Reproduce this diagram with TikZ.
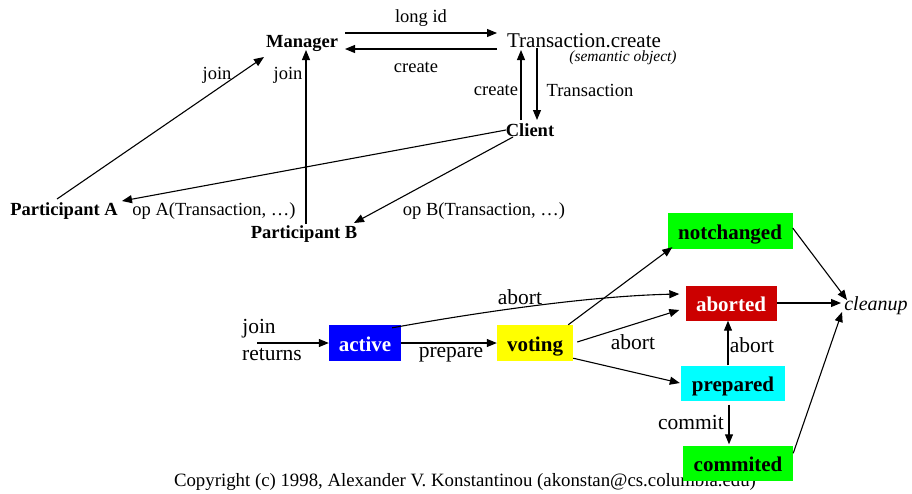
\documentclass[tikz,border=0pt]{standalone}
\usepackage{fontspec}
\setmainfont{Liberation Serif}
\usetikzlibrary{arrows.meta,calc}
\definecolor{stblue}{RGB}{0,0,255}
\definecolor{styellow}{RGB}{255,255,0}
\definecolor{stgreen}{RGB}{0,255,0}
\definecolor{stcyan}{RGB}{0,255,255}
\definecolor{stred}{RGB}{204,0,0}
\begin{document}
\begin{tikzpicture}[x=1pt,y=-1pt,
  lbl/.style={font=\fontsize{18.5}{20}\selectfont, inner sep=0pt},
  slbl/.style={font=\fontsize{21.5}{24}\selectfont, inner sep=0pt},
  ent/.style={font=\fontsize{18.5}{20}\selectfont\bfseries, inner sep=0pt},
  state/.style={font=\fontsize{21}{24}\selectfont\bfseries, minimum height=36pt,
    inner sep=0pt, text height=17pt, text depth=0pt},
  arr/.style={-{Triangle[length=10pt,width=8pt]}, line width=1.1pt}]
\useasboundingbox (0,0) rectangle (912,493);

% upper part: objects of the transaction service
\node[ent] (mgr) at (302,43) {Manager};
\node[lbl, font=\fontsize{21}{24}\selectfont] (tc) at (584,41) {Transaction.create};
\node[lbl, font=\fontsize{15.5}{17}\selectfont\itshape] (sem) at (623,58) {(semantic object)};
\node[ent] (client) at (530,130) {Client};
\node[ent] (pa) at (64,211) {Participant A};
\node[ent] (pb) at (304,234) {Participant B};

\draw[arr] ($(mgr)+(43,-10)$) -- ($(tc)+(-87,-8)$);
\draw[arr] ($(tc)+(-87,8)$) -- ($(mgr)+(43,6)$);
\draw[arr] ($(client)+(-9,-10)$) -- ($(tc)+(-63,9)$);
\draw[arr] ($(tc)+(-47,7)$) -- ($(client)+(7,-10)$);
\draw[arr] ($(client)+(-24,0)$) -- ($(pa)+(58,-10)$);
\draw[arr] ($(client)+(-17,7)$) -- ($(pb)+(50,-11)$);
\draw[arr] ($(pa)+(-7,-12)$) -- ($(mgr)+(-38,14)$);
\draw[arr] ($(pb)+(2,-10)$) -- ($(mgr)+(4,7)$);

\node[lbl] (llongid) at (421,18) {long id};
\node[lbl] (lcreateA) at (416,67) {create};
\node[lbl] (lcreateB) at (496,90) {create};
\node[lbl] (ltrans) at (590,90) {Transaction};
\node[lbl] (ljoinA) at (217,75) {join};
\node[lbl] (ljoinB) at (288,75) {join};
\node[lbl] (lopA) at (214,211) {op A(Transaction, …)};
\node[lbl] (lopB) at (484,211) {op B(Transaction, …)};

% lower part: transaction states
\node[lbl, font=\fontsize{18.8}{20}\selectfont] (copy) at (465,482) {Copyright (c) 1998, Alexander V. Konstantinou (akonstan@cs.columbia.edu)};

\node[state, fill=stblue, text=white, minimum width=72pt] (active) at (365,343) {active};
\node[state, fill=styellow, minimum width=76pt] (voting) at (535,343) {voting};
\node[state, fill=stgreen, minimum width=125pt] (notch) at (730,231) {notchanged};
\node[state, fill=stred, text=white, minimum width=91pt, minimum height=35pt] (aborted) at (731,303) {aborted};
\node[state, fill=stcyan, minimum width=104pt, minimum height=35pt] (prep) at (733,383) {prepared};
\node[state, fill=stgreen, minimum width=110pt, minimum height=35pt] (commit) at (738,463) {commited};
\node[lbl, font=\fontsize{20}{22}\selectfont\itshape] (cleanup) at (876,306) {cleanup};

\coordinate (jr) at (257,343);
\draw[arr] (jr) -- (active.west);
\draw[arr] (active.east) -- (voting.west);
\draw[arr] ($(active.north east)+(-9,3)$) .. controls (480,312) and (590,296) .. ($(aborted.west)+(-6,-9)$);
\draw[arr] ($(voting.north east)+(-5,0)$) -- ($(notch.south west)+(5,-2)$);
\draw[arr] ($(voting.east)+(4,-1)$) -- ($(aborted.west)+(-6,7)$);
\draw[arr] ($(voting.south east)+(0,-3)$) -- ($(prep.west)+(-1,0)$);
\draw[arr] ($(prep.north)+(-5,0)$) -- ($(aborted.south)+(-3,0)$);
\draw[arr] ($(prep.south)+(-4,4)$) -- ($(commit.north)+(-9,-1)$);
\draw[arr] ($(notch.east)+(0,-3)$) -- ($(cleanup)+(-29,-6)$);
\draw[arr] (aborted.east) -- ($(cleanup)+(-35,-3)$);
\draw[arr] ($(commit.north east)+(0,8)$) -- ($(cleanup)+(-34,6)$);

\node[slbl] (ljoin) at (259,329) {join};
\node[slbl] (lreturns) at (272,355) {returns};
\node[slbl] (lprepare) at (451,355) {prepare};
\node[slbl] (labortA) at (520,297) {abort};
\node[slbl] (labortB) at (633,342) {abort};
\node[slbl] (labortC) at (752,345) {abort};
\node[slbl] (lcommit) at (691,422) {commit};
\end{tikzpicture}
\end{document}
